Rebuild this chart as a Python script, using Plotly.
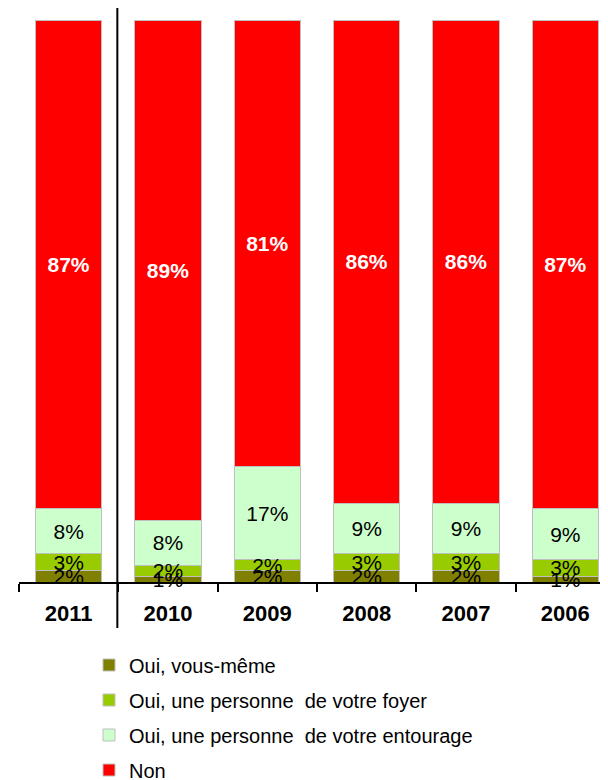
import plotly.graph_objects as go

years = ["2011", "2010", "2009", "2008", "2007", "2006"]
oui_vous_meme = [2, 1, 2, 2, 2, 1]
oui_foyer = [3, 2, 2, 3, 3, 3]
oui_entourage = [8, 8, 17, 9, 9, 9]
non = [87, 89, 81, 86, 86, 87]

series_names = [
    "Oui, vous-même",
    "Oui, une personne  de votre foyer",
    "Oui, une personne  de votre entourage",
    "Non",
]
series_values = [oui_vous_meme, oui_foyer, oui_entourage, non]
series_colors = ["#808000", "#99CC00", "#CCFFCC", "#FF0000"]
text_colors = ["black", "black", "black", "white"]
text_weights = ["normal", "normal", "normal", "bold"]

FONT = "Liberation Sans"

# page body has an 8px margin: the figure is laid out in its own pixel frame
L, T, PW, PH = 11, 12, 596, 562
W, H = 608, 780

fig = go.Figure()
# coloured bars (no labels)
for i, (name, vals, col) in enumerate(zip(series_names, series_values, series_colors)):
    fig.add_trace(
        go.Bar(
            x=years,
            y=vals,
            name=name,
            marker=dict(color=col, line=dict(color="#BFBFBF", width=1)),
            legendgroup=f"g{i}",
            hoverinfo="skip",
        )
    )
# transparent copies on an overlaying axis carrying the labels, so labels sit on top
for i, (name, vals, tcol, tw) in enumerate(
    zip(series_names, series_values, text_colors, text_weights)
):
    fig.add_trace(
        go.Bar(
            x=years,
            y=vals,
            name=name,
            yaxis="y2",
            marker=dict(color="rgba(0,0,0,0)", line=dict(width=0)),
            text=[f"{v}%" for v in vals],
            textposition="inside",
            insidetextanchor="middle",
            textangle=0,
            insidetextfont=dict(family=FONT, size=21, color=tcol, weight=tw),
            cliponaxis=False,
            showlegend=False,
            hoverinfo="skip",
        )
    )

fig.update_layout(
    barmode="stack",
    barnorm="percent",
    bargap=0.335,
    width=W,
    height=H,
    margin=dict(l=L, r=W - L - PW, t=T, b=H - T - PH, autoexpand=False),
    paper_bgcolor="white",
    plot_bgcolor="white",
    font=dict(family=FONT, color="black"),
    uniformtext=dict(minsize=21, mode="show"),
    showlegend=True,
    legend=dict(
        x=(81 - L) / PW,
        xanchor="left",
        y=-63.5 / PH,
        yanchor="top",
        traceorder="grouped",
        tracegroupgap=6,
        font=dict(family=FONT, size=20, color="black"),
        bgcolor="rgba(0,0,0,0)",
    ),
    xaxis=dict(
        type="category",
        range=[-0.5, 5.5],
        showline=True,
        linecolor="black",
        linewidth=1.5,
        ticks="outside",
        tickson="boundaries",
        ticklen=8,
        tickcolor="black",
        tickwidth=1.5,
        tickfont=dict(family=FONT, size=22, color="black", weight="bold"),
        ticklabelstandoff=11,
        showgrid=False,
        zeroline=False,
    ),
    yaxis=dict(range=[0, 100], visible=False, showgrid=False, zeroline=False),
    yaxis2=dict(
        range=[0, 100], visible=False, showgrid=False, zeroline=False,
        overlaying="y", matches="y",
    ),
    shapes=[
        dict(
            type="line",
            xref="x",
            yref="paper",
            x0=0.49,
            x1=0.49,
            y0=-46 / PH,
            y1=1 + 13 / PH,
            line=dict(color="black", width=2),
        )
    ],
)

fig.write_html("out.html")
